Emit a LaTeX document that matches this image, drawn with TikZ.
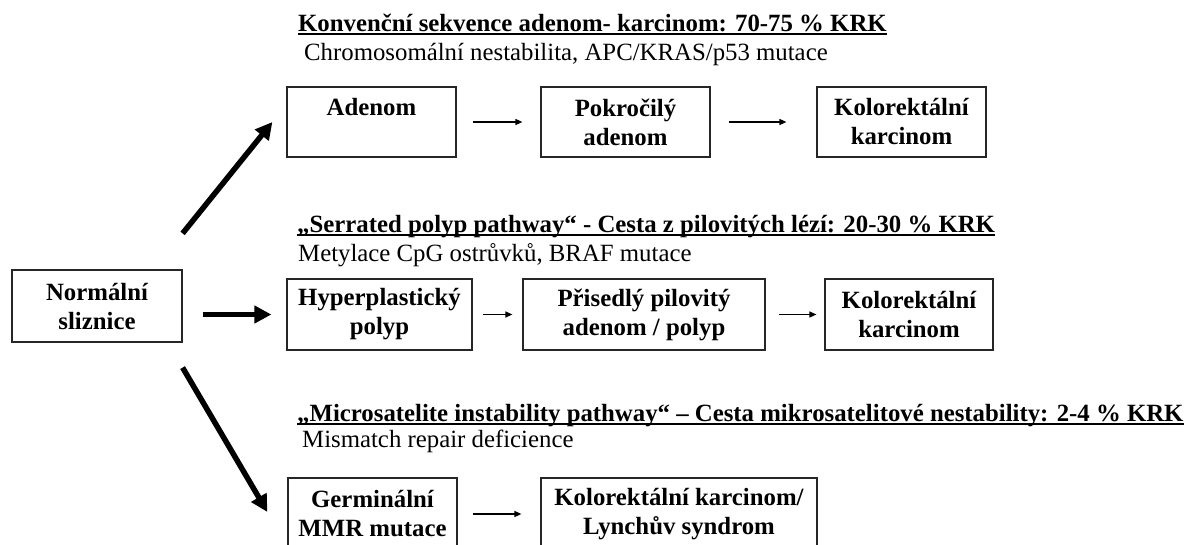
\documentclass[tikz,border=0pt]{standalone}
\usepackage{fontspec}
\setmainfont{Liberation Serif}
\usetikzlibrary{arrows.meta,calc}
\begin{document}
\begin{tikzpicture}[x=1pt,y=-1pt,
  font=\fontsize{24.8}{29}\selectfont,
  box/.style={draw=black!85, line width=1.2pt, align=center, inner sep=0pt,
              font=\fontsize{24.8}{29}\selectfont\bfseries},
  ttl/.style={anchor=base west, inner sep=0pt, font=\fontsize{24.8}{29}\selectfont\bfseries},
  sub/.style={anchor=base west, inner sep=0pt},
  uline/.style={line width=2pt},
  sarrow/.style={line width=1.3pt, -{Triangle[length=7pt,width=6pt]}},
  barrow/.style={line width=5.5pt, -{Triangle[length=17pt,width=17pt]}}]
\useasboundingbox (0,0) rectangle (1188,544);
\clip (0,0) rectangle (1188,544);
\fill[white] (0,0) rectangle (1188,544);

% titles
\node[ttl] (t1) at (298,31) {Konvenční sekvence adenom- karcinom: 70-75 \% KRK};
\draw[uline] ([yshift=-2.5pt]t1.base west) -- ([yshift=-2.5pt]t1.base east);
\node[sub] (s1) at (304,60) {Chromosomální nestabilita, APC/KRAS/p53 mutace};

\node[ttl] (t2) at (297,232) {„Serrated polyp pathway“ - Cesta z pilovitých lézí: 20-30 \% KRK};
\draw[uline] ([yshift=-2.5pt]t2.base west) -- ([yshift=-2.5pt]t2.base east);
\node[sub] (s2) at (298,261) {Metylace CpG ostrůvků, BRAF mutace};

\node[ttl] (t3) at (297,421) {„Microsatelite instability pathway“ – Cesta mikrosatelitové nestability: 2-4 \% KRK};
\draw[uline] ([yshift=-2.5pt]t3.base west) -- ([yshift=-2.5pt]t3.base east);
\node[sub] (s3) at (302,447) {Mismatch repair deficience};

% boxes
\node[box, minimum width=170pt, minimum height=72pt] (normal) at (97,306) {Normální\\sliznice};

\node[box, minimum width=169pt, minimum height=70pt] (adenom) at (371.5,122) {Adenom\\\phantom{adenom}};
\node[box, minimum width=169pt, minimum height=70pt] (pokr) at (625.5,122) {Pokročilý\\adenom};
\node[box, minimum width=169pt, minimum height=70pt] (kol1) at (901.5,122) {Kolorektální\\karcinom};

\node[box, minimum width=185pt, minimum height=71pt] (hyper) at (379.5,314.5) {Hyperplastický\\polyp};
\node[box, minimum width=242pt, minimum height=71pt] (prised) at (644,314.5) {Přisedlý pilovitý\\adenom / polyp};
\node[box, minimum width=168pt, minimum height=71pt] (kol2) at (909,314.5) {Kolorektální\\karcinom};

\node[box, minimum width=169pt, minimum height=72pt] (germ) at (372.5,514) {Germinální\\MMR mutace};
\node[box, minimum width=276pt, minimum height=72pt] (lynch) at (679,514) {Kolorektální karcinom/\\Lynchův syndrom};

% small arrows
\draw[sarrow, shorten <=16pt, shorten >=18pt] (adenom.east) -- (pokr.west);
\draw[sarrow, shorten <=18pt, shorten >=30pt] (pokr.east) -- (kol1.west);
\draw[sarrow, shorten <=10pt, shorten >=10pt] (hyper.east) -- (prised.west);
\draw[sarrow, shorten <=13pt, shorten >=8pt] (prised.east) -- (kol2.west);
\draw[sarrow, shorten <=15pt, shorten >=19pt] (germ.east) -- (lynch.west);

% thick arrows
\draw[barrow, shorten <=20pt, shorten >=15pt] (normal.east |- hyper.west) -- (hyper.west);
\draw[barrow] ($(normal.north east)+(0,-36)$) -- ($(adenom.west)+(-14,0)$);
\draw[barrow] ($(normal.south east)+(0,25)$) -- ($(germ.west)+(-20,-2)$);
\end{tikzpicture}
\end{document}
